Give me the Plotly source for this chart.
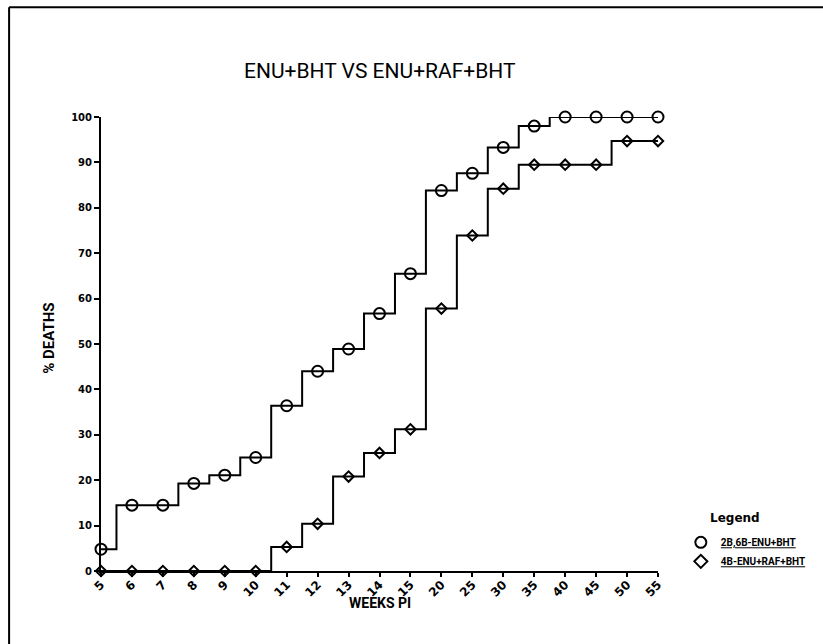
import plotly.graph_objects as go

weeks = ["5", "6", "7", "8", "9", "10", "11", "12", "13", "14", "15",
         "20", "25", "30", "35", "40", "45", "50", "55"]
enu_bht = [4.8, 14.5, 14.5, 19.3, 21.1, 25.0, 36.4, 44.0, 48.9, 56.7, 65.5,
           83.8, 87.6, 93.3, 98.0, 100, 100, 100, 100]
enu_raf_bht = [0, 0, 0, 0, 0, 0, 5.3, 10.4, 20.8, 26.0, 31.2,
               57.8, 73.9, 84.2, 89.5, 89.5, 89.5, 94.7, 94.7]
name1 = "2B,6B-ENU+BHT"
name2 = "4B-ENU+RAF+BHT"
yticks = [0, 10, 20, 30, 40, 50, 60, 70, 80, 90, 100]

FONT_T = "Roboto, DejaVu Sans, sans-serif"
FONT_B = "DejaVu Sans, Liberation Sans, sans-serif"

fig = go.Figure()
fig.add_trace(go.Scatter(
    x=weeks, y=enu_bht, mode="lines+markers", line_shape="hvh",
    line=dict(color="black", width=2),
    marker=dict(symbol="circle-open", size=11, color="black", line=dict(width=2)),
    cliponaxis=False, showlegend=False))
fig.add_trace(go.Scatter(
    x=weeks, y=enu_raf_bht, mode="lines+markers", line_shape="hvh",
    line=dict(color="black", width=2),
    marker=dict(symbol="diamond-open", size=8, color="black", line=dict(width=2)),
    cliponaxis=False, showlegend=False))
# legend entries (markers only)
fig.add_trace(go.Scatter(x=[None], y=[None], mode="markers", name="<u><b>" + name1 + "</b></u>",
                         marker=dict(symbol="circle-open", size=11, color="black", line=dict(width=2))))
fig.add_trace(go.Scatter(x=[None], y=[None], mode="markers", name="<u><b>" + name2 + "</b></u>",
                         marker=dict(symbol="diamond-open", size=10, color="black", line=dict(width=2))))

fig.update_layout(
    width=823, height=644,
    margin=dict(l=101, r=159, t=117, b=73),
    paper_bgcolor="white", plot_bgcolor="white",
    showlegend=True,
    legend=dict(x=1.041, y=0.095, xanchor="left", yanchor="top",
                font=dict(family=FONT_T, size=10, color="black"),
                bgcolor="rgba(0,0,0,0)", itemwidth=30, tracegroupgap=0),
    xaxis=dict(type="category", categoryorder="array", categoryarray=weeks,
               range=[0, 18], showline=True, linecolor="black", linewidth=2,
               ticks="outside", ticklen=4, tickcolor="black", tickwidth=1.5,
               tickangle=-45, showgrid=False, zeroline=False, ticklabelstandoff=-4,
               tickfont=dict(family=FONT_B, size=12, color="black", weight="bold")),
    yaxis=dict(range=[0, 100], tickvals=yticks, showline=True, linecolor="black",
               linewidth=2, ticks="outside", ticklen=5, tickcolor="black", tickwidth=1.5,
               showgrid=False, zeroline=False,
               tickfont=dict(family=FONT_B, size=10, color="black", weight="bold")),
    annotations=[
        dict(text="ENU+BHT VS ENU+RAF+BHT", xref="paper", yref="paper",
             x=0.5, y=1.101, xanchor="center", yanchor="middle", showarrow=False,
             font=dict(family=FONT_T, size=21, color="black")),
        dict(text="<b>% DEATHS</b>", xref="paper", yref="paper", textangle=-90,
             x=-0.094, y=0.513, xanchor="center", yanchor="middle", showarrow=False,
             font=dict(family=FONT_T, size=15, color="black")),
        dict(text="<b>WEEKS PI</b>", xref="paper", yref="paper",
             x=0.5, y=-0.0705, xanchor="center", yanchor="middle", showarrow=False,
             font=dict(family=FONT_T, size=14, color="black")),
        dict(text="<b>Legend</b>", xref="paper", yref="paper", xanchor="left",
             yanchor="middle", x=1.09, y=0.117, showarrow=False,
             font=dict(family=FONT_B, size=12, color="black")),
    ],
    shapes=[
        dict(type="line", xref="paper", yref="paper", x0=-0.165, x1=-0.165,
             y0=-0.165, y1=1.242, line=dict(color="black", width=2)),
        dict(type="line", xref="paper", yref="paper", x0=-0.165, x1=1.30,
             y0=1.242, y1=1.242, line=dict(color="black", width=2)),
    ],
)

fig.write_html("out.html")
